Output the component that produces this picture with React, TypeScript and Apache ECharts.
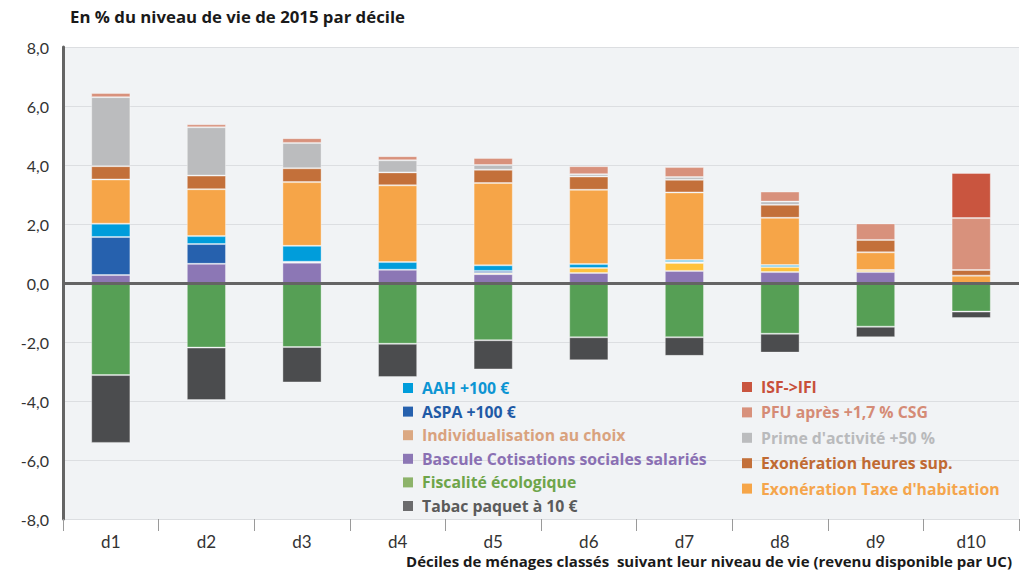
import React, { useEffect, useRef } from "react";
import * as echarts from "echarts";

const categories = ["d1", "d2", "d3", "d4", "d5", "d6", "d7", "d8", "d9", "d10"];
const yTicks = [-8, -6, -4, -2, 0, 2, 4, 6, 8];

const bascule = [0.27, 0.65, 0.69, 0.45, 0.3, 0.34, 0.41, 0.37, 0.37, null];
const individualisation = [null, null, 0.03, null, 0.04, 0.17, 0.27, 0.17, 0.07, null];
const aspa = [1.29, 0.67, null, null, 0.07, null, 0.03, null, null, null];
const aah = [0.45, 0.27, 0.54, 0.26, 0.19, 0.13, 0.07, 0.07, null, null];
const exoTH = [1.5, 1.59, 2.16, 2.6, 2.79, 2.52, 2.29, 1.6, 0.6, 0.25];
const exoHS = [0.45, 0.46, 0.47, 0.44, 0.45, 0.45, 0.43, 0.44, 0.42, 0.19];
const prime = [2.34, 1.64, 0.86, 0.41, 0.16, 0.08, 0.09, 0.11, null, null];
const pfu = [0.14, 0.1, 0.16, 0.14, 0.24, 0.27, 0.34, 0.34, 0.56, 1.76];
const isf = [null, null, null, null, null, null, null, null, null, 1.53];
const fiscalite = [-3.12, -2.19, -2.17, -2.06, -1.94, -1.84, -1.84, -1.72, -1.48, -0.97];
const tabac = [-2.3, -1.78, -1.2, -1.13, -0.99, -0.78, -0.63, -0.64, -0.36, -0.22];

const FONT = "Lato";
const FONT2 = "Open Sans";

type S = { name: string; data: (number | null)[]; color: string; legendColor: string; textColor: string };

const seriesDefs: S[] = [
  { name: "Bascule Cotisations sociales salariés", data: bascule, color: "#8C77B5", legendColor: "#8C77B5", textColor: "#8A70B3" },
  { name: "Individualisation au choix", data: individualisation, color: "#FFC23D", legendColor: "#DBA882", textColor: "#D9A27E" },
  { name: "ASPA +100 €", data: aspa, color: "#2661AE", legendColor: "#2661AE", textColor: "#1F5AA6" },
  { name: "AAH +100 €", data: aah, color: "#009DDB", legendColor: "#009DDB", textColor: "#0D95D3" },
  { name: "Exonération Taxe d'habitation", data: exoTH, color: "#F6A548", legendColor: "#F6A548", textColor: "#F5A54C" },
  { name: "Exonération heures sup.", data: exoHS, color: "#C3703A", legendColor: "#C3703A", textColor: "#C06A33" },
  { name: "Prime d'activité +50 %", data: prime, color: "#BBBCBE", legendColor: "#BBBCBE", textColor: "#B9BABC" },
  { name: "PFU après +1,7 % CSG", data: pfu, color: "#D8917C", legendColor: "#D8917C", textColor: "#D58B76" },
  { name: "ISF->IFI", data: isf, color: "#C9553F", legendColor: "#C9553F", textColor: "#C8503A" },
  { name: "Fiscalité écologique", data: fiscalite, color: "#569F55", legendColor: "#8DB36A", textColor: "#6EA54A" },
  { name: "Tabac paquet à 10 €", data: tabac, color: "#4B4C4E", legendColor: "#6B6B6D", textColor: "#5B5B5B" },
];

const leftLegend = [
  "AAH +100 €",
  "ASPA +100 €",
  "Individualisation au choix",
  "Bascule Cotisations sociales salariés",
  "Fiscalité écologique",
  "Tabac paquet à 10 €",
];
const rightLegend = [
  "ISF->IFI",
  "PFU après +1,7 % CSG",
  "Prime d'activité +50 %",
  "Exonération heures sup.",
  "Exonération Taxe d'habitation",
];

function legendItems(names: string[]) {
  return names.map((n) => {
    const s = seriesDefs.find((d) => d.name === n)!;
    return {
      name: n,
      itemStyle: { color: s.legendColor, borderWidth: 0 },
      textStyle: { color: s.textColor },
    };
  });
}

export default function App() {
  const ref = useRef<HTMLDivElement>(null);
  useEffect(() => {
    if (!ref.current) return;
    const chart = echarts.init(ref.current, null, { renderer: "svg" });
    const legendText = {
      fontFamily: FONT2,
      fontSize: 15.8,
      fontWeight: "bold" as const,
      lineHeight: 16,
      padding: [0, 0, 0, 4],
    };
    chart.setOption({
      animation: false,
      backgroundColor: "#ffffff",
      grid: {
        left: 63,
        right: 10,
        top: 47,
        bottom: 51,
        show: true,
        backgroundColor: "#F1F3F5",
        borderWidth: 0,
      },
      legend: [
        {
          orient: "vertical",
          left: 398,
          top: 375,
          itemWidth: 10,
          itemHeight: 10,
          itemGap: 7.6,
          icon: "rect",
          textStyle: legendText,
          data: legendItems(leftLegend),
        },
        {
          orient: "vertical",
          left: 737,
          top: 374,
          itemWidth: 10,
          itemHeight: 10,
          itemGap: 9.4,
          icon: "rect",
          textStyle: legendText,
          data: legendItems(rightLegend),
        },
      ],
      xAxis: {
        type: "category",
        data: categories,
        axisLine: { show: false, onZero: false },
        axisTick: { show: true, length: 12, lineStyle: { color: "#9a9a9a" }, interval: 0 },
        axisLabel: { fontFamily: FONT, fontSize: 17, lineHeight: 17, color: "#333", margin: 14 },
        splitLine: { show: false },
      },
      yAxis: {
        type: "value",
        min: yTicks[0],
        max: yTicks[yTicks.length - 1],
        interval: 2,
        axisLine: { show: true, lineStyle: { color: "#646464", width: 3 } },
        axisTick: { show: false },
        axisLabel: {
          fontFamily: FONT,
          fontSize: 16,
          color: "#333",
          margin: 14,
          formatter: (v: number) => v.toFixed(1).replace(".", ","),
        },
        splitLine: { show: true, lineStyle: { color: "#DCDEE1", width: 1 } },
      },
      series: seriesDefs.map((s, i) => ({
        name: s.name,
        type: "bar",
        stack: "total",
        barWidth: "41%",
        data: s.data,
        itemStyle: { color: s.color, borderColor: "rgba(255,255,255,0.35)", borderWidth: 1 },
        emphasis: { disabled: true },
        markLine:
          i === 0
            ? {
                silent: true,
                symbol: "none",
                label: { show: false },
                lineStyle: { color: "#646464", width: 3, type: "solid" },
                data: [{ yAxis: 0 }],
                z: 10,
              }
            : undefined,
      })),
      graphic: [
        {
          type: "text",
          left: 70,
          top: 8,
          style: {
            text: "En % du niveau de vie de 2015 par décile",
            fontFamily: FONT2,
            fontSize: 16.8,
            fontWeight: "bold",
            fill: "#1a1a1a",
          },
        },
        {
          type: "text",
          right: 17,
          top: 553,
          style: {
            text: "Déciles de ménages classés  suivant leur niveau de vie (revenu disponible par UC)",
            fontFamily: FONT2,
            fontSize: 15,
            lineHeight: 16,
            fontWeight: "bold",
            fill: "#1a1a1a",
          },
        },
      ],
    });
    return () => chart.dispose();
  }, []);
  return (
    <div
      ref={ref}
      style={{ position: "absolute", left: 0, top: 0, width: 1029, height: 570 }}
    />
  );
}
